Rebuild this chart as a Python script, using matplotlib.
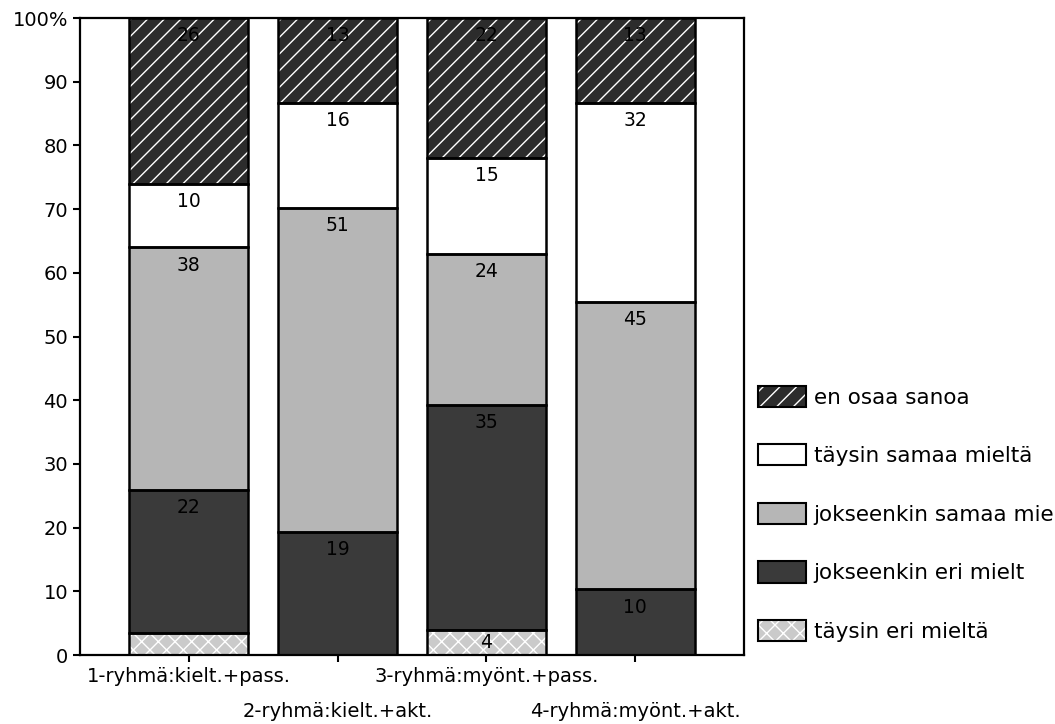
import matplotlib
matplotlib.use('Agg')
import matplotlib.pyplot as plt
from matplotlib.patches import Patch
import numpy as np

plt.rcParams['font.family'] = ['DejaVu Sans']
plt.rcParams['hatch.linewidth'] = 1.0

groups = ["1-ryhmä:kielt.+pass.", "2-ryhmä:kielt.+akt.",
          "3-ryhmä:myönt.+pass.", "4-ryhmä:myönt.+akt."]
series_names = ["täysin eri mieltä", "jokseenkin eri mielt",
                "jokseenkin samaa mie", "täysin samaa mieltä", "en osaa sanoa"]

taysin_eri = [3.5, 0.0, 4.0, 0.0]
jokseenkin_eri = [22.4, 19.3, 35.3, 10.3]
jokseenkin_samaa = [38.1, 50.9, 23.7, 45.1]
taysin_samaa = [10.0, 16.5, 15.1, 31.3]
en_osaa = [26.0, 13.3, 21.9, 13.3]

taysin_eri_lbl = ["", "", "4", ""]
jokseenkin_eri_lbl = ["22", "19", "35", "10"]
jokseenkin_samaa_lbl = ["38", "51", "24", "45"]
taysin_samaa_lbl = ["10", "16", "15", "32"]
en_osaa_lbl = ["26", "13", "22", "13"]

yticks = [0, 10, 20, 30, 40, 50, 60, 70, 80, 90, 100]
ytick_labels = ["0", "10", "20", "30", "40", "50", "60", "70", "80", "90", "100%"]

series = [taysin_eri, jokseenkin_eri, jokseenkin_samaa, taysin_samaa, en_osaa]
series_lbls = [taysin_eri_lbl, jokseenkin_eri_lbl, jokseenkin_samaa_lbl,
               taysin_samaa_lbl, en_osaa_lbl]
faces = ['#cacaca', '#3a3a3a', '#b6b6b6', '#ffffff', '#2c2c2c']
hatches = ['xx', None, None, None, '//']

fig = plt.figure(figsize=(10.55, 7.24), dpi=100)
ax = fig.add_axes([0.0758, 0.0953, 0.6294, 0.8798])

x = np.arange(len(groups))
bottom = np.zeros(len(groups))
handles = []
for vals, lbls, fc, h, name in zip(series, series_lbls, faces, hatches, series_names):
    vals = np.array(vals)
    ax.bar(x, vals, 0.8, bottom=bottom, color=fc, edgecolor='white',
           hatch=h, linewidth=0, zorder=2)
    ax.bar(x, vals, 0.8, bottom=bottom, fill=False, edgecolor='black',
           linewidth=1.8, zorder=3)
    for xi, v, b, lab in zip(x, vals, bottom, lbls):
        if not lab:
            continue
        ypos = b + v - 2.8 if v >= 8 else b + v / 2
        ax.text(xi, ypos, lab, ha='center', va='center', fontsize=13.5,
                color='black', zorder=4)
    handles.append((Patch(facecolor=fc, edgecolor='white', hatch=h, linewidth=0),
                    Patch(fill=False, edgecolor='black', linewidth=1.5)))
    bottom = bottom + vals

ax.set_xlim(-0.73, 3.73)
ax.set_ylim(0, 100)
ax.set_yticks(yticks)
ax.set_yticklabels(ytick_labels, fontsize=14)
ax.set_xticks(x)
ax.set_xticklabels([])
for xi, g in zip(x, groups):
    off = 19.4 if xi % 2 == 0 else 44.6
    ax.annotate(g, xy=(xi, 0), xycoords=('data', 'axes fraction'),
                xytext=(0, -off), textcoords='offset points',
                ha='center', va='baseline', fontsize=14, annotation_clip=False)
ax.tick_params(axis='both', direction='out', length=5, width=1.5, colors='black')
for s in ax.spines.values():
    s.set_linewidth(1.6)
    s.set_color('black')

leg = fig.legend(handles[::-1], series_names[::-1], loc='upper left',
                 bbox_to_anchor=(0.7185, 0.4675), frameon=False, fontsize=15.5,
                 handlelength=2.23, handleheight=1.15, labelspacing=1.70,
                 handletextpad=0.35, borderpad=0, borderaxespad=0)

fig.savefig('out.png', dpi=100)
